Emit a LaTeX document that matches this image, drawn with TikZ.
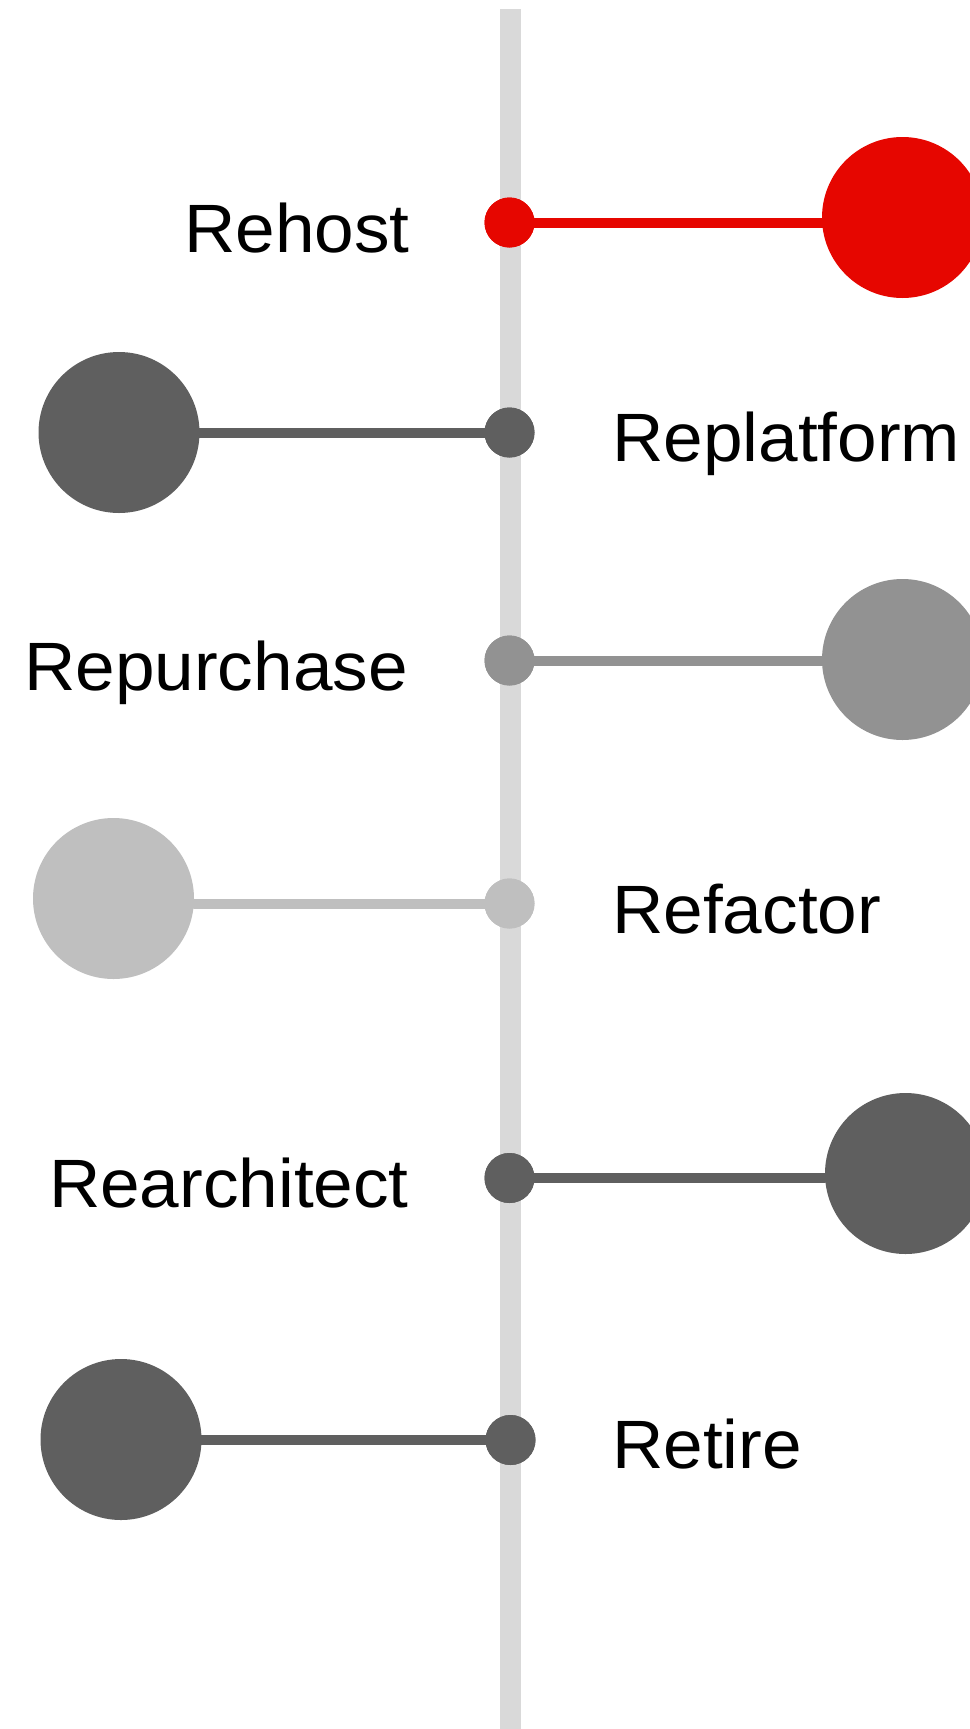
\documentclass[tikz,border=0pt]{standalone}
\usepackage{fontspec}
\setmainfont{Liberation Sans}[FakeStretch=1.04]
\definecolor{hred}{RGB}{230,6,0}
\definecolor{dgray}{RGB}{95,95,95}
\definecolor{mgray}{RGB}{146,146,146}
\definecolor{lgray}{RGB}{191,191,191}
\definecolor{bargray}{RGB}{217,217,217}
\begin{document}
\begin{tikzpicture}[x=1pt,y=-1pt,
  smalldot/.style={circle, fill=#1, minimum size=50, inner sep=0pt},
  bigdot/.style={circle, fill=#1, minimum size=161, inner sep=0pt},
  conn/.style={draw=#1, line width=10},
  lblleft/.style={anchor=base east, inner sep=0pt, font=\fontsize{68.4}{80}\selectfont},
  lblright/.style={anchor=base west, inner sep=0pt, font=\fontsize{68.4}{80}\selectfont}]
\useasboundingbox (0,0) rectangle (969,1729);
% timeline bar
\coordinate (bartop) at (510.5,9);
\coordinate (barbot) at (510.5,1729);
\draw[bargray, line width=21] (bartop) -- (barbot);
% node coordinates
\path (509.5,222.5) node[smalldot=hred] (s1) {}
      (509.5,432.5) node[smalldot=dgray] (s2) {}
      (509.5,660.5) node[smalldot=mgray] (s3) {}
      (509.5,903.5) node[smalldot=lgray] (s4) {}
      (509.5,1178) node[smalldot=dgray] (s5) {}
      (510.5,1440) node[smalldot=dgray] (s6) {};
\path (902.5,217.5) coordinate (c1)
      (119,432.5) coordinate (c2)
      (902.5,659.5) coordinate (c3)
      (113.5,898.5) coordinate (c4)
      (905.5,1173.5) coordinate (c5)
      (121,1439.5) coordinate (c6);
% connectors behind big circles
\draw[conn=hred] (s1.center) -- (s1.center -| c1);
\draw[conn=dgray] (s2.center) -- (s2.center -| c2);
\draw[conn=mgray] (s3.center) -- (s3.center -| c3);
\draw[conn=dgray] (s6.center) -- (s6.center -| c6);
% big circles
\node[bigdot=hred] (b1) at (c1) {};
\node[bigdot=dgray] (b2) at (c2) {};
\node[bigdot=mgray] (b3) at (c3) {};
\node[bigdot=lgray] (b4) at (c4) {};
\node[bigdot=dgray] (b5) at (c5) {};
\node[bigdot=dgray] (b6) at (c6) {};
% connectors with small round end at circle edge
\draw[conn=lgray, line cap=round] (s4.center) -- (s4.center -| b4.east);
\draw[conn=dgray, line cap=round] (s5.center) -- (s5.center -| b5.west);
% small dots on top
\node[smalldot=hred] at (s1) {};
\node[smalldot=dgray] at (s2) {};
\node[smalldot=mgray] at (s3) {};
\node[smalldot=lgray] at (s4) {};
\node[smalldot=dgray] at (s5) {};
\node[smalldot=dgray] at (s6) {};
% labels
\node[lblleft] (t1) at (410,252) {Rehost};
\node[lblright] (t2) at (612,461) {Replatform};
\node[lblleft] (t3) at (408,690) {Repurchase};
\node[lblright] (t4) at (612,933) {Refactor};
\node[lblleft] (t5) at (409,1207) {Rearchitect};
\node[lblright] (t6) at (612,1468) {Retire};
\end{tikzpicture}
\end{document}
